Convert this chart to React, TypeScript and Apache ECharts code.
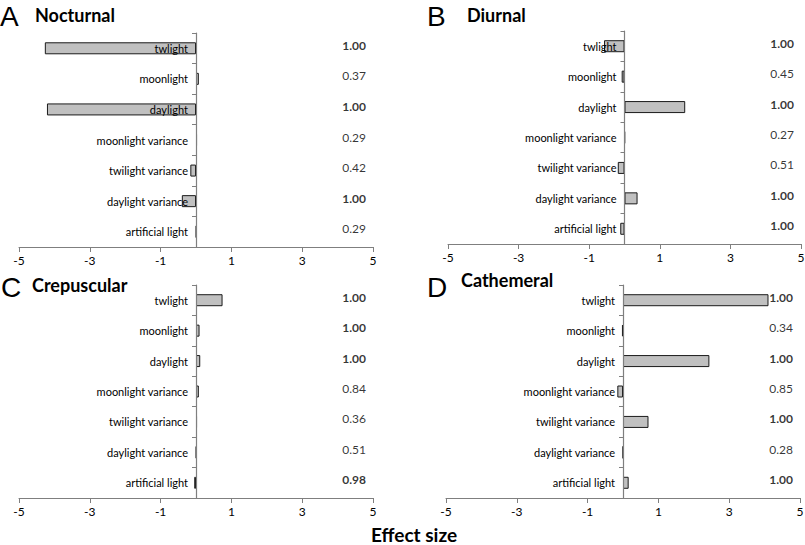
import React, { useEffect, useRef } from "react";
import * as echarts from "echarts";

const categories = [
  "twlight",
  "moonlight",
  "daylight",
  "moonlight variance",
  "twilight variance",
  "daylight variance",
  "artificial light",
];
const xTicks = [-5, -3, -1, 1, 3, 5];

const nocturnal = [-4.27, 0.08, -4.21, 0.03, -0.16, -0.4, 0.01];
const diurnal = [-0.58, -0.08, 1.72, 0.01, -0.19, 0.37, -0.12];
const crepuscular = [0.75, 0.1, 0.12, 0.08, 0.03, 0.01, -0.05];
const cathemeral = [4.11, -0.03, 2.44, -0.16, 0.72, 0.0, 0.16];

const nocturnalP = [1.0, 0.37, 1.0, 0.29, 0.42, 1.0, 0.29];
const diurnalP = [1.0, 0.45, 1.0, 0.27, 0.51, 1.0, 1.0];
const crepuscularP = [1.0, 1.0, 1.0, 0.84, 0.36, 0.51, 0.98];
const cathemeralP = [1.0, 0.34, 1.0, 0.85, 1.0, 0.28, 1.0];

const panelLetters = ["A", "B", "C", "D"];
const panelTitles = ["Nocturnal", "Diurnal", "Crepuscular", "Cathemeral"];
const xAxisTitle = "Effect size";

const FONT = "Lato";

export default function App() {
  const ref = useRef<HTMLDivElement>(null);
  useEffect(() => {
    if (!ref.current) return;
    const chart = echarts.init(ref.current, undefined, { renderer: "svg" });
    const values = [nocturnal, diurnal, crepuscular, cathemeral];
    const pvals = [nocturnalP, diurnalP, crepuscularP, cathemeralP];
    const grids = [
      { left: 19, top: 33, width: 354, height: 214 },
      { left: 448, top: 31, width: 353, height: 213 },
      { left: 19, top: 285, width: 354, height: 213 },
      { left: 446, top: 285, width: 354, height: 213 },
    ];
    const axisColor = "#7f7f7f";
    const xAxes = grids.map((_, i) => ({
      type: "value",
      gridIndex: i,
      min: -5,
      max: 5,
      splitLine: { show: false },
      axisLine: { show: true, onZero: false, lineStyle: { color: axisColor, width: 1 } },
      axisTick: { show: true, length: 5, customValues: xTicks, lineStyle: { color: axisColor } },
      axisLabel: {
        customValues: xTicks,
        color: "#000",
        fontSize: 12,
        fontFamily: FONT,
        margin: 7,
      },
    }));
    // the y axis sits at x = 0, i.e. the middle of the symmetric -5..5 range
    const yAxes = grids.map((g, i) => ({
      type: "category",
      gridIndex: i,
      data: categories,
      inverse: true,
      position: "left",
      offset: -g.width / 2,
      axisLine: { show: true, onZero: false, lineStyle: { color: axisColor, width: 1.2 } },
      axisTick: { show: true, length: 4, lineStyle: { color: axisColor } },
      axisLabel: { color: "#000", fontSize: 11, fontFamily: FONT, margin: 8 },
      splitLine: { show: false },
      z: 5,
    }));
    const series: any[] = [];
    values.forEach((vals, i) => {
      series.push({
        type: "bar",
        xAxisIndex: i,
        yAxisIndex: i,
        data: vals,
        barWidth: 12,
        itemStyle: { color: "#c0c0c0", borderColor: "#1a1a1a", borderWidth: 1 },
        z: 2,
      });
      series.push({
        type: "scatter",
        xAxisIndex: i,
        yAxisIndex: i,
        symbolSize: 0,
        data: pvals[i].map((p, j) => ({
          value: [4.8, categories[j]],
          label: { fontWeight: p >= 0.95 ? "bold" : "normal" },
        })),
        label: {
          show: true,
          position: "left",
          distance: 0,
          offset: [0, -3],
          color: "#000",
          fontSize: 12,
          fontFamily: FONT,
          formatter: (prm: any) => pvals[i][prm.dataIndex].toFixed(2),
        },
        silent: true,
      });
    });
    const letterPos = [
      [0, 17],
      [427, 17],
      [1, 288],
      [427, 288],
    ];
    const titlePos = [
      [35, 17],
      [467, 17],
      [32, 287],
      [461, 282],
    ];
    const graphic: any[] = [];
    panelLetters.forEach((l, i) => {
      graphic.push({
        type: "text",
        left: letterPos[i][0],
        top: letterPos[i][1] - 15,
        style: { text: l, fontSize: 28, fontFamily: "Liberation Sans", fill: "#000" },
      });
      graphic.push({
        type: "text",
        left: titlePos[i][0],
        top: titlePos[i][1] - 11,
        style: { text: panelTitles[i], fontSize: 18, fontWeight: "bold", fontFamily: FONT, fill: "#000" },
      });
    });
    graphic.push({
      type: "text",
      left: 371,
      top: 525,
      style: { text: xAxisTitle, fontSize: 19, fontWeight: "bold", fontFamily: FONT, fill: "#000" },
    });
    chart.setOption({
      animation: false,
      backgroundColor: "#fff",
      grid: grids.map((g) => ({ ...g, containLabel: false, outerBoundsMode: "none" })),
      xAxis: xAxes,
      yAxis: yAxes,
      series,
      graphic,
    });
    return () => chart.dispose();
  }, []);
  return (
    <div
      ref={ref}
      style={{ position: "absolute", left: 0, top: 0, width: 805, height: 545 }}
    />
  );
}
